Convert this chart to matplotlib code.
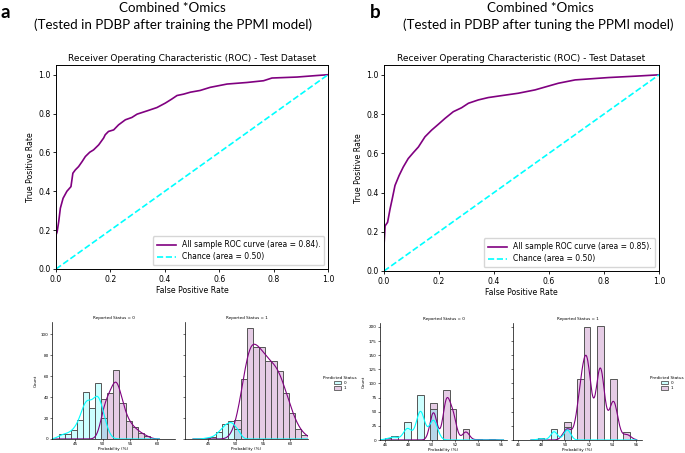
#!/usr/bin/env python
#-*- coding:utf-8 -*-

"""
ROC curves (PDBP test set) for the combined *Omics model, after training and
after tuning in PPMI, with the predicted-probability histograms below.
"""

import pandas as pd
import matplotlib
matplotlib.use("Agg")
from matplotlib import pyplot as plt
from matplotlib.patches import Patch
import seaborn as sns

# ---- ROC curves ----
fprA = [0.0, 0.0, 0.004, 0.010, 0.016, 0.026, 0.040, 0.055, 0.062, 0.071,
	0.083, 0.096, 0.108, 0.124, 0.138, 0.157, 0.175, 0.181, 0.193, 0.212,
	0.230, 0.255, 0.279, 0.298, 0.335, 0.371, 0.402, 0.426, 0.445, 0.469,
	0.494, 0.530, 0.567, 0.629, 0.702, 0.763, 0.794, 0.886, 0.960, 1.0]
tprA = [0.0, 0.175, 0.19, 0.244, 0.313, 0.364, 0.40, 0.424, 0.493, 0.51,
	0.527, 0.553, 0.579, 0.601, 0.613, 0.639, 0.674, 0.691, 0.708, 0.716,
	0.742, 0.768, 0.78, 0.797, 0.814, 0.831, 0.854, 0.875, 0.893, 0.90,
	0.91, 0.919, 0.935, 0.952, 0.96, 0.969, 0.983, 0.988, 0.996, 1.0]
aucA = 0.84

fprB = [0.0, 0.0, 0.004, 0.013, 0.022, 0.030, 0.040, 0.055, 0.070, 0.088,
	0.107, 0.125, 0.149, 0.173, 0.197, 0.222, 0.252, 0.282, 0.307, 0.343,
	0.379, 0.428, 0.488, 0.549, 0.634, 0.695, 0.816, 0.913, 1.0]
tprB = [0.0, 0.128, 0.23, 0.248, 0.316, 0.368, 0.436, 0.487, 0.53, 0.573,
	0.604, 0.632, 0.684, 0.718, 0.747, 0.778, 0.812, 0.832, 0.855, 0.872,
	0.884, 0.894, 0.906, 0.923, 0.957, 0.974, 0.986, 0.993, 1.0]
aucB = 0.85

chanceLine = [0.0, 1.0]

# ---- probability histograms: first bin edge, bin width, counts ----
# panel a, reported status 0 / 1
binStartA0 = 41.99
binWidthA0 = 1.11
cyanA0 = [5, 5, 9, 18, 45, 30, 53, 20, 0, 0, 0, 0, 0, 0, 0]
purpleA0 = [0, 0, 0, 0, 0, 0, 0, 38, 44, 66, 34, 17, 11, 6, 3]

binStartA1 = 44.25
binWidthA1 = 1.11
cyanA1 = [1, 2, 7, 14, 17, 10, 0, 0, 0, 0, 0, 0, 0, 0, 0, 0, 0]
purpleA1 = [0, 0, 0, 0, 0, 18, 57, 106, 88, 88, 74, 74, 65, 44, 25, 10, 4]

# panel b, reported status 0 / 1
binStartB = 45.96
binWidthB = 0.56
cyanB0 = [3, 7, 0, 32, 0, 80, 0, 55, 0, 0, 0, 0, 0, 0, 0, 0, 0, 0]
purpleB0 = [0, 0, 0, 0, 0, 0, 0, 65, 0, 89, 55, 0, 19, 0, 1, 0, 1, 0]
cyanB1 = [0, 0, 0, 3, 0, 19, 0, 23, 0, 0, 0, 0, 0, 0, 0, 0, 0, 0]
purpleB1 = [0, 0, 0, 0, 0, 0, 0, 31, 0, 108, 200, 0, 202, 0, 108, 0, 15, 0]

colors = {0: "cyan", 1: "purple"}
hueAlpha = 0.2
edgeCol = "#555555"

W, H = 685, 453
fig = plt.figure(figsize=(W / 100., H / 100.), dpi=100)

titleFont = "Lato"
smallSize = 3.0


def rocPanel(rect, fpr, tpr, auc):
	ax = fig.add_axes(rect)
	ax.plot(fpr, tpr, color="purple", lw=1.2,
		label="All sample ROC curve (area = %0.2f)." % auc)
	ax.plot(chanceLine, chanceLine, color="cyan", lw=1.2, linestyle="--",
		label="Chance (area = 0.50)")
	ax.set_xlim(0, 1)
	ax.set_ylim(0, 1.05)
	ax.set_title("Receiver Operating Characteristic (ROC) - Test Dataset",
		fontsize=6.5, pad=3)
	ax.set_xlabel("False Positive Rate", fontsize=5.6, labelpad=1.5)
	ax.set_ylabel("True Positive Rate", fontsize=5.6, labelpad=2)
	ax.tick_params(labelsize=5.6, length=2.5, width=0.6, pad=1.5)
	for s in ax.spines.values():
		s.set_linewidth(0.7)
	ax.legend(loc="lower right", fontsize=5.5, handlelength=2.5,
		borderpad=0.5, labelspacing=0.4, fancybox=True)
	return ax


def histPanel(rect, start, width, cyan, purple, title, bw, showY, yMax,
		xLim, xTicks, yTicks):
	ax = fig.add_axes(rect)
	nBin = len(cyan)
	edges = [start + width * i for i in range(nBin + 1)]
	centers = [e + width / 2. for e in edges[:-1]]
	df = pd.DataFrame({"Probability (%)": centers + centers,
		"Predicted Status": [0] * nBin + [1] * nBin,
		"n": list(cyan) + list(purple)})
	df = df[df["n"] > 0]
	sns.histplot(data=df, x="Probability (%)", hue="Predicted Status",
		weights="n", bins=edges, kde=True, palette=colors, legend=False,
		kde_kws={"bw_adjust": bw, "cut": 1.5}, line_kws={"linewidth": 0.8},
		ax=ax)
	for p in ax.patches:
		fc = p.get_facecolor()
		p.set_alpha(None)
		p.set_facecolor((fc[0], fc[1], fc[2], hueAlpha))
		p.set_edgecolor(edgeCol)
		p.set_linewidth(0.7)
	ax.set_xlim(xLim)
	ax.set_ylim(0, yMax)
	ax.set_xticks(xTicks)
	ax.set_yticks(yTicks)
	ax.set_title(title, fontsize=smallSize, pad=2)
	ax.set_xlabel("Probability (%)", fontsize=smallSize, labelpad=0.5)
	if showY:
		ax.set_ylabel("Count", fontsize=smallSize, labelpad=2)
	else:
		ax.set_ylabel("")
		ax.tick_params(axis="y", labelleft=False)
	ax.tick_params(labelsize=smallSize, length=1.5, width=0.4, pad=1)
	sns.despine(ax=ax)
	for s in ax.spines.values():
		s.set_linewidth(0.5)
	return ax


def figRect(x0, y0, x1, y1):
	# pixel box (top-left origin) to figure fraction
	return [x0 / float(W), 1 - y1 / float(H), (x1 - x0) / float(W),
		(y1 - y0) / float(H)]


# ROC panels
rocPanel(figRect(56, 65, 328, 269), fprA, tprA, aucA)
rocPanel(figRect(384, 65, 659, 271), fprB, tprB, aucB)

# histograms
xLimA = (40.8, 63.2)
xTicksA = [45, 50, 55, 60]
yTicksA = [0, 20, 40, 60, 80, 100]
histPanel(figRect(52, 322, 175, 439), binStartA0, binWidthA0, cyanA0,
	purpleA0, "Reported Status = 0", 0.55, True, 111.7, xLimA, xTicksA, yTicksA)
histPanel(figRect(185, 322, 308, 439), binStartA1, binWidthA1, cyanA1,
	purpleA1, "Reported Status = 1", 0.55, False, 111.7, xLimA, xTicksA, yTicksA)

xLimB = (45.55, 56.5)
xTicksB = [46, 48, 50, 52, 54, 56]
yTicksB = [0, 25, 50, 75, 100, 125, 150, 175, 200]
histPanel(figRect(380, 323, 507, 440), binStartB, binWidthB, cyanB0,
	purpleB0, "Reported Status = 0", 0.37, True, 207, xLimB, xTicksB, yTicksB)
histPanel(figRect(513, 323, 642, 440), binStartB, binWidthB, cyanB1,
	purpleB1, "Reported Status = 1", 0.37, False, 207, xLimB, xTicksB, yTicksB)

# histogram legends
handles = [Patch(facecolor=(0, 1, 1, hueAlpha), edgecolor=edgeCol, lw=0.6),
	Patch(facecolor=(0.5, 0, 0.5, hueAlpha), edgecolor=edgeCol, lw=0.6)]
for lx in [321, 648]:
	fig.legend(handles, ["0", "1"], title="Predicted Status",
		loc="center left", bbox_to_anchor=(lx / float(W), 1 - 383 / float(H)),
		fontsize=smallSize, title_fontsize=smallSize, frameon=False,
		handlelength=1.8, handleheight=0.9, handletextpad=0.6, borderpad=0,
		labelspacing=0.25)

# panel headings
fig.text(0.5 / W, 1 - 13 / float(H), "a", fontfamily=titleFont,
	fontweight="bold", fontsize=13.5, va="center", ha="left")
fig.text(370 / float(W), 1 - 12 / float(H), "b", fontfamily=titleFont,
	fontweight="bold", fontsize=13.5, va="center", ha="left")
fig.text(172 / float(W), 1 - 8 / float(H), "Combined *Omics",
	fontfamily=titleFont, fontsize=9.6, ha="center", va="center")
fig.text(173 / float(W), 1 - 25 / float(H),
	"(Tested in PDBP after training the PPMI model)",
	fontfamily=titleFont, fontsize=9.6, ha="center", va="center")
fig.text(540 / float(W), 1 - 8 / float(H), "Combined *Omics",
	fontfamily=titleFont, fontsize=9.6, ha="center", va="center")
fig.text(538 / float(W), 1 - 25 / float(H),
	"(Tested in PDBP after tuning the PPMI model)",
	fontfamily=titleFont, fontsize=9.6, ha="center", va="center")

fig.savefig("out.png", dpi=100)
